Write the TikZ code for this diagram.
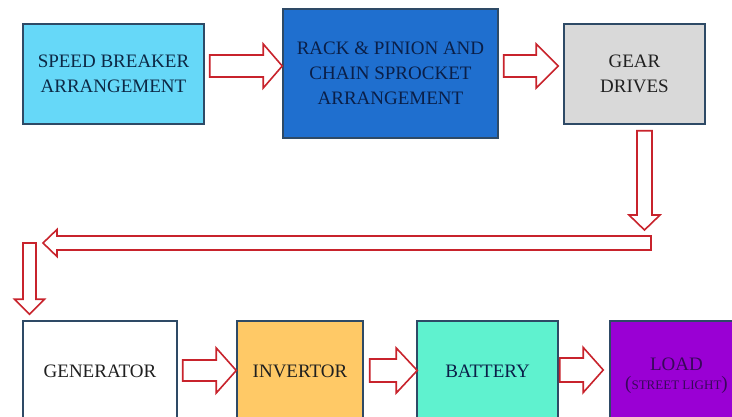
\documentclass[tikz,border=0pt]{standalone}
\usepackage{fontspec}
\setmainfont{Liberation Serif}
\usetikzlibrary{calc}
\definecolor{boxline}{HTML}{2E4A66}
\definecolor{arrred}{HTML}{C8232C}
\definecolor{sbfill}{HTML}{66D8F8}
\definecolor{rpfill}{HTML}{1F6FCF}
\definecolor{gdfill}{HTML}{D9D9D9}
\definecolor{invfill}{HTML}{FFC966}
\definecolor{batfill}{HTML}{5FF2CF}
\definecolor{loadfill}{HTML}{9A00D4}
\definecolor{navytext}{HTML}{0C2845}
\definecolor{darknavy}{HTML}{0A1F48}
\definecolor{greytext}{HTML}{202020}
\definecolor{purptext}{HTML}{38085A}
\begin{document}
\begin{tikzpicture}[x=1pt,y=-1pt,
  box/.style={draw=boxline, line width=1.5pt, inner sep=0pt, align=center,
    font=\fontsize{19}{25}\selectfont},
  rarrow/.style n args={3}{draw=arrred, fill=white, line width=1.6pt,
    to path={let \p1=(\tikztostart), \p2=(\tikztotarget) in
      (\x1,\y1-#1pt) -- (\x2-#3pt,\y1-#1pt) -- (\x2-#3pt,\y1-#2pt) -- (\x2,\y1)
      -- (\x2-#3pt,\y1+#2pt) -- (\x2-#3pt,\y1+#1pt) -- (\x1,\y1+#1pt) -- cycle}},
  larrow/.style n args={3}{draw=arrred, fill=white, line width=1.6pt,
    to path={let \p1=(\tikztostart), \p2=(\tikztotarget) in
      (\x1,\y1-#1pt) -- (\x2+#3pt,\y1-#1pt) -- (\x2+#3pt,\y1-#2pt) -- (\x2,\y1)
      -- (\x2+#3pt,\y1+#2pt) -- (\x2+#3pt,\y1+#1pt) -- (\x1,\y1+#1pt) -- cycle}},
  darrow/.style n args={3}{draw=arrred, fill=white, line width=1.6pt,
    to path={let \p1=(\tikztostart), \p2=(\tikztotarget) in
      (\x1-#1pt,\y1) -- (\x1-#1pt,\y2+#3pt) -- (\x1-#2pt,\y2+#3pt) -- (\x1,\y2)
      -- (\x1+#2pt,\y2+#3pt) -- (\x1+#1pt,\y2+#3pt) -- (\x1+#1pt,\y1) -- cycle}}
]
\useasboundingbox (0,0) rectangle (732,416);
\clip (0,0) rectangle (732,416);
\fill[white] (0,0) rectangle (732,416);

% top row
\node[box, fill=sbfill, text=navytext, minimum width=181pt, minimum height=100pt]
  (sb) at (113.5,74) {SPEED BREAKER\\ARRANGEMENT};
\node[box, fill=rpfill, text=darknavy, minimum width=215pt, minimum height=129pt]
  (rp) at (390.5,73.5) {RACK \& PINION AND\\CHAIN SPROCKET\\ARRANGEMENT};
\node[box, fill=gdfill, text=greytext, minimum width=141pt, minimum height=100pt]
  (gd) at (634.5,74) {GEAR\\DRIVES};

% bottom row
\node[box, fill=white, text=black!88, minimum width=154pt, minimum height=100pt]
  (gen) at (100,371) {GENERATOR};
\node[box, fill=invfill, text=black!88, minimum width=126pt, minimum height=100pt]
  (inv) at (300,371) {INVERTOR};
\node[box, fill=batfill, text=darknavy, minimum width=141pt, minimum height=100pt]
  (bat) at (487.5,371) {BATTERY};
\node[box, fill=loadfill, minimum width=140pt, minimum height=100pt]
  (load) at (680,371) {};
\node[inner sep=0pt, align=center, text=purptext, font=\fontsize{19}{19}\selectfont]
  (loadtxt) at (676.5,376) {LOAD\\(\raisebox{0.5pt}{\fontsize{13}{13}\selectfont STREET LIGHT})};

% free ends of the return path
\coordinate (c1) at (644.5,230);
\coordinate (c2) at (651,243);
\coordinate (c3) at (43,243);
\coordinate (c4) at (29.5,243);

% block arrows
\draw[rarrow={11}{22}{19}] ($(sb.east)+(5,-8)$) to ($(rp.west)+(0,-7.5)$);
\draw[rarrow={11}{22}{22}] ($(rp.east)+(5,-7.5)$) to ($(gd.west)+(-5,-8)$);
\draw[darrow={7.5}{15.5}{15}] ($(gd.south)+(10,6)$) to (c1);
\draw[larrow={7}{13.5}{14}] (c2) to (c3);
\draw[darrow={6.5}{15}{15}] (c4) to ($(gen.north)+(-70.5,-6)$);
\draw[rarrow={10.5}{22.5}{20}] ($(gen.east)+(5,-0.5)$) to (inv.west);
\draw[rarrow={11.5}{22.5}{21}] ($(inv.east)+(6,-0.5)$) to ($(bat.west)+(1,0)$);
\draw[rarrow={12}{22.5}{20}] ($(bat.east)+(1,-1)$) to ($(load.west)+(-6,0)$);
\end{tikzpicture}
\end{document}
